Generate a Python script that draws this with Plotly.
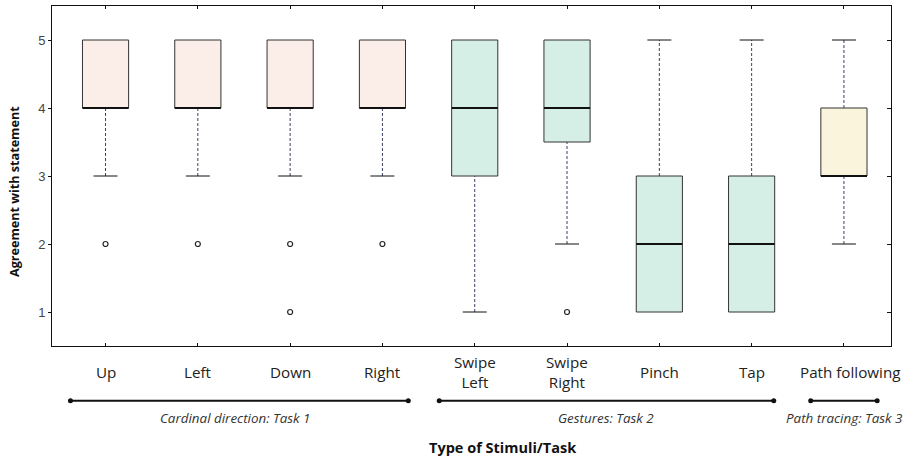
import plotly.graph_objects as go

# ---------------- data ----------------
categories = ["Up", "Left", "Down", "Right", "Swipe<br>Left", "Swipe<br>Right",
              "Pinch", "Tap", "Path following"]
q1 = [4, 4, 4, 4, 3, 3.5, 1, 1, 3]
median = [4, 4, 4, 4, 4, 4, 2, 2, 3]
q3 = [5, 5, 5, 5, 5, 5, 3, 3, 4]
whisker_low = [3, 3, 3, 3, 1, 2, 1, 1, 2]
whisker_high = [5, 5, 5, 5, 5, 5, 5, 5, 5]
outliers = [[2], [2], [2, 1], [2], [], [1], [], [], []]
group_names = ["Cardinal direction: Task 1", "Gestures: Task 2", "Path tracing: Task 3"]
group_members = [[0, 1, 2, 3], [4, 5, 6, 7], [8]]
y_ticks = [1, 2, 3, 4, 5]

# ---------------- style ----------------
group_fill = ["#FBEEE9", "#D6EFE6", "#FAF4DD"]
group_span = [(0.62, 4.28), (4.615, 8.24), (8.64, 9.36)]
group_label_shift = [-4, 0, 1]
half_w = 0.25
cap_w = 0.13
whisker_color = "#3d4266"
edge_color = "#333333"
text_font = "'Open Sans', 'Noto Sans', sans-serif"
tick_font = "Arial, 'Liberation Sans', sans-serif"

W, H = 914, 459
m_l, m_r, m_t, m_b = 52, 23, 6, 113
plot_h = H - m_t - m_b
plot_w = W - m_l - m_r


def px_to_paper(dy):
    return -dy / plot_h


fig = go.Figure()

fill_for = {}
for g, members in enumerate(group_members):
    for i in members:
        fill_for[i] = group_fill[g]

for i in range(len(categories)):
    x = i + 1
    # whiskers (dashed)
    if whisker_high[i] > q3[i]:
        fig.add_trace(go.Scatter(x=[x, x], y=[q3[i], whisker_high[i]], mode="lines",
                                 line=dict(color=whisker_color, width=1, dash="3px,2px"),
                                 hoverinfo="skip", showlegend=False))
        fig.add_trace(go.Scatter(x=[x - cap_w, x + cap_w], y=[whisker_high[i]] * 2, mode="lines",
                                 line=dict(color="#111", width=1),
                                 hoverinfo="skip", showlegend=False))
    if whisker_low[i] < q1[i]:
        fig.add_trace(go.Scatter(x=[x, x], y=[whisker_low[i], q1[i]], mode="lines",
                                 line=dict(color=whisker_color, width=1, dash="3px,2px"),
                                 hoverinfo="skip", showlegend=False))
        fig.add_trace(go.Scatter(x=[x - cap_w, x + cap_w], y=[whisker_low[i]] * 2, mode="lines",
                                 line=dict(color="#111", width=1),
                                 hoverinfo="skip", showlegend=False))
    # box
    fig.add_trace(go.Scatter(
        x=[x - half_w, x + half_w, x + half_w, x - half_w, x - half_w],
        y=[q1[i], q1[i], q3[i], q3[i], q1[i]],
        mode="lines", fill="toself", fillcolor=fill_for[i],
        line=dict(color=edge_color, width=1), hoverinfo="skip", showlegend=False))
    # median
    fig.add_trace(go.Scatter(x=[x - half_w, x + half_w], y=[median[i]] * 2, mode="lines",
                             line=dict(color="#111", width=2.2),
                             hoverinfo="skip", showlegend=False))
    # outliers
    if outliers[i]:
        fig.add_trace(go.Scatter(x=[x] * len(outliers[i]), y=outliers[i], mode="markers",
                                 marker=dict(symbol="circle-open", size=5,
                                             color="#222", line=dict(width=1.2)),
                                 hoverinfo="skip", showlegend=False))

# invisible trace on right axis so its inside ticks render
fig.add_trace(go.Scatter(x=[1], y=[3], yaxis="y2", mode="markers",
                         marker=dict(opacity=0), hoverinfo="skip", showlegend=False))

annotations = []
shapes = []
# category labels
for i, c in enumerate(categories):
    annotations.append(dict(x=i + 1, y=0, xref="x", yref="paper", yshift=-26,
                            xshift=6 if i == len(categories) - 1 else 0,
                            text=c, showarrow=False, yanchor="middle", xanchor="center",
                            font=dict(family=text_font, size=15.2, color="#222")))

# group lines and labels
line_y = px_to_paper(400.7 - (H - m_b))
label_y = px_to_paper(418.5 - (H - m_b))
for g, name in enumerate(group_names):
    x0, x1 = group_span[g]
    shapes.append(dict(type="line", xref="x", yref="paper", x0=x0, x1=x1,
                       y0=line_y, y1=line_y, line=dict(color="#111", width=2)))
    for xx in (x0, x1):
        shapes.append(dict(type="circle", xref="x", yref="paper",
                           xsizemode="pixel", ysizemode="pixel",
                           xanchor=xx, yanchor=line_y, x0=-2.5, x1=2.5, y0=-2.5, y1=2.5,
                           fillcolor="#111", line=dict(color="#111", width=0)))
    annotations.append(dict(x=(x0 + x1) / 2, y=label_y, xref="x", yref="paper",
                            xshift=group_label_shift[g],
                            text="<i>" + name + "</i>", showarrow=False,
                            yanchor="middle", xanchor="center",
                            font=dict(family=text_font, size=13.4, color="#333")))

# axis titles
annotations.append(dict(x=(502 - m_l) / plot_w, y=px_to_paper(447 - (H - m_b)),
                        xref="paper", yref="paper",
                        text="<b>Type of Stimuli/Task</b>", showarrow=False,
                        yanchor="middle", xanchor="center",
                        font=dict(family=text_font, size=14.5, color="#111")))
annotations.append(dict(x=0, y=(H - m_b - 192) / plot_h, xref="paper", yref="paper",
                        xshift=-38,
                        text="<b>Agreement with statement</b>", showarrow=False,
                        textangle=-90, yanchor="middle", xanchor="center",
                        font=dict(family=text_font, size=12.6, color="#111")))

fig.update_layout(
    width=W, height=H,
    margin=dict(l=m_l, r=m_r, t=m_t, b=m_b),
    plot_bgcolor="white", paper_bgcolor="white",
    showlegend=False,
    xaxis=dict(range=[0.42, 9.51], tickvals=list(range(1, len(categories) + 1)),
               showticklabels=False, ticks="inside", ticklen=3, tickcolor="#111",
               showline=True, linecolor="#111", linewidth=1, mirror="ticks",
               showgrid=False, zeroline=False),
    yaxis=dict(range=[0.5, 5.5], tickvals=y_ticks, ticks="outside", ticklen=3,
               tickcolor="#111", showline=True, linecolor="#111", linewidth=1,
               mirror=True, showgrid=False, zeroline=False,
               tickfont=dict(family=tick_font, size=13, color="#444")),
    yaxis2=dict(range=[0.5, 5.5], overlaying="y", side="right", tickvals=y_ticks,
                ticks="inside", ticklen=4, tickcolor="#111", showticklabels=False,
                showline=False, showgrid=False, zeroline=False),
    annotations=annotations,
    shapes=shapes,
)

fig.write_html("out.html", config={"displayModeBar": False},
               post_script="document.body.style.margin='0';document.body.style.overflow='hidden';")
